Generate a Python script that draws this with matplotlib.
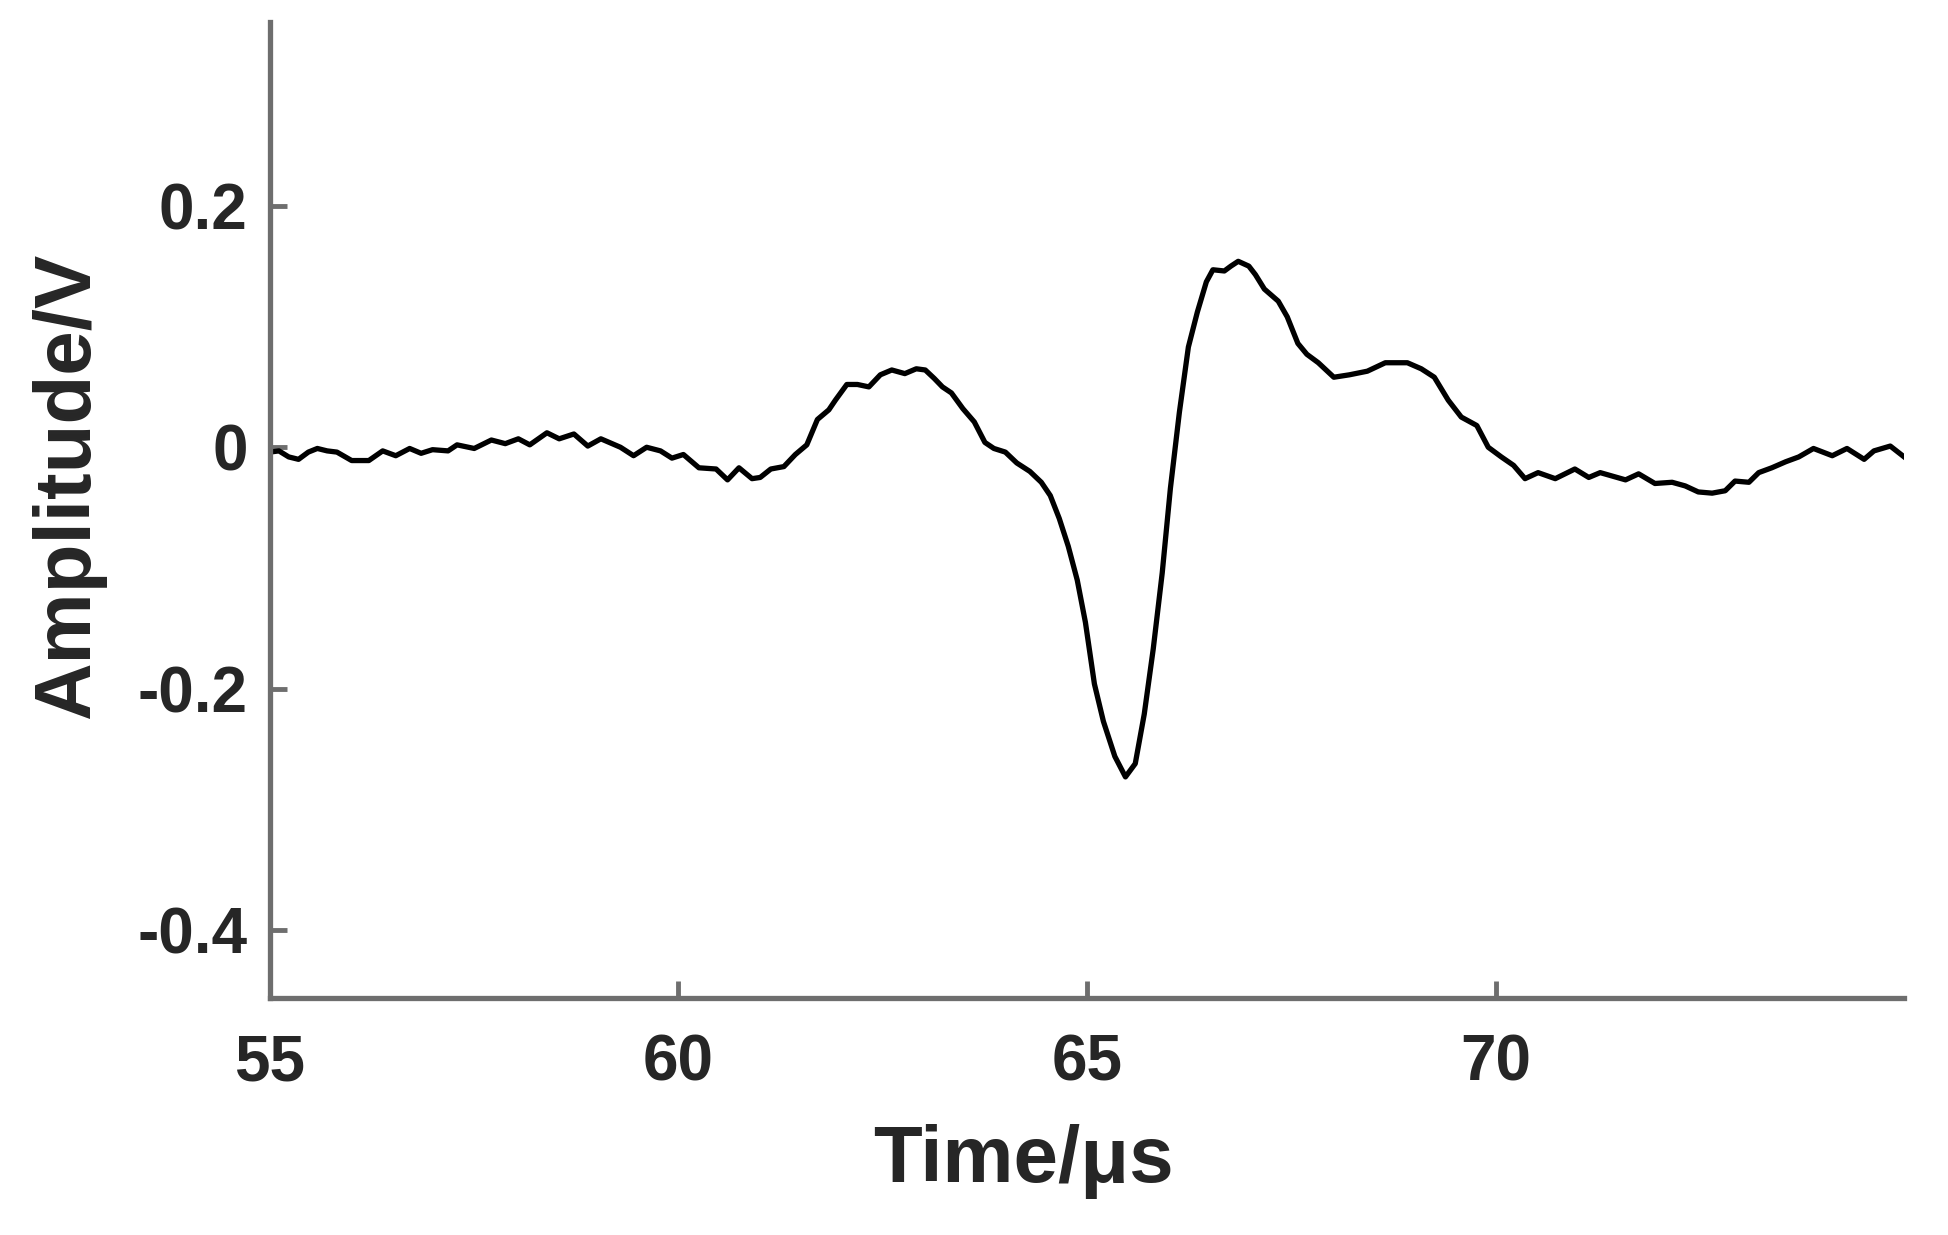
import matplotlib
matplotlib.use("Agg")
import matplotlib.pyplot as plt

# waveform (time in us, amplitude in V)
time_us = [55.00, 55.11, 55.23, 55.35, 55.47, 55.58, 55.70, 55.82, 56.00, 56.21,
           56.38, 56.54, 56.71, 56.85, 56.99, 57.18, 57.29, 57.50, 57.71, 57.88,
           58.04, 58.18, 58.39, 58.54, 58.72, 58.89, 59.05, 59.29, 59.45, 59.61,
           59.78, 59.92, 60.06, 60.25, 60.46, 60.60, 60.74, 60.90, 61.00, 61.13,
           61.29, 61.43, 61.57, 61.70, 61.84, 61.92, 62.06, 62.19, 62.33, 62.47,
           62.61, 62.77, 62.91, 63.02, 63.13, 63.23, 63.34, 63.48, 63.62, 63.75,
           63.86, 64.00, 64.14, 64.30, 64.44, 64.55, 64.66, 64.77, 64.88, 64.98,
           65.09, 65.20, 65.34, 65.47, 65.59, 65.70, 65.81, 65.92, 66.02, 66.13,
           66.24, 66.35, 66.46, 66.54, 66.68, 66.76, 66.85, 66.98, 67.06, 67.17,
           67.34, 67.45, 67.58, 67.69, 67.83, 68.02, 68.21, 68.43, 68.65, 68.92,
           69.09, 69.25, 69.42, 69.58, 69.77, 69.91, 70.07, 70.22, 70.36, 70.52,
           70.73, 70.97, 71.14, 71.28, 71.59, 71.75, 71.95, 72.16, 72.32, 72.48,
           72.65, 72.81, 72.93, 73.10, 73.22, 73.38, 73.55, 73.71, 73.89, 74.12,
           74.30, 74.51, 74.63, 74.83, 75.00]
amplitude_v = [-0.004, -0.003, -0.008, -0.010, -0.004, -0.001, -0.003, -0.004, -0.011, -0.011,
               -0.003, -0.007, -0.001, -0.005, -0.002, -0.003, 0.002, -0.001, 0.006, 0.003,
               0.007, 0.002, 0.012, 0.007, 0.011, 0.001, 0.007, 0.000, -0.007, 0.000,
               -0.003, -0.009, -0.006, -0.017, -0.018, -0.027, -0.017, -0.026, -0.025, -0.018,
               -0.016, -0.006, 0.002, 0.023, 0.031, 0.039, 0.052, 0.052, 0.050, 0.060,
               0.064, 0.061, 0.065, 0.064, 0.057, 0.050, 0.045, 0.032, 0.021, 0.004,
               -0.001, -0.004, -0.013, -0.020, -0.029, -0.040, -0.059, -0.082, -0.110, -0.145,
               -0.196, -0.227, -0.256, -0.273, -0.262, -0.221, -0.167, -0.104, -0.034, 0.029,
               0.083, 0.112, 0.137, 0.147, 0.146, 0.150, 0.154, 0.150, 0.143, 0.131,
               0.121, 0.108, 0.086, 0.077, 0.070, 0.058, 0.060, 0.063, 0.070, 0.070,
               0.065, 0.058, 0.039, 0.025, 0.018, 0.000, -0.008, -0.015, -0.026, -0.021,
               -0.026, -0.018, -0.025, -0.021, -0.027, -0.022, -0.030, -0.029, -0.032, -0.037,
               -0.038, -0.036, -0.028, -0.029, -0.021, -0.017, -0.012, -0.008, -0.001, -0.007,
               -0.001, -0.010, -0.003, 0.001, -0.008]

x_ticks = [55, 60, 65, 70]
y_ticks = [-0.4, -0.2, 0, 0.2]
y_tick_labels = ["-0.4", "-0.2", "0", "0.2"]

plt.rcParams['font.family'] = ['Liberation Sans', 'DejaVu Sans']
plt.rcParams['font.weight'] = 'bold'

text_col = '#262626'
axis_col = '#6e6e6e'

fig = plt.figure(figsize=(19.49, 12.35), dpi=100)
ax = fig.add_axes([0.1385, 0.192, 0.8385, 0.790])

ax.plot(time_us, amplitude_v, color='black', linewidth=3.8)

ax.set_xlim(55, 75)
ax.set_ylim(-0.456, 0.352)
ax.set_xticks(x_ticks)
ax.set_yticks(y_ticks)
ax.set_yticklabels(y_tick_labels)

for side in ['top', 'right']:
    ax.spines[side].set_visible(False)
for side in ['left', 'bottom']:
    ax.spines[side].set_color(axis_col)
    ax.spines[side].set_linewidth(3.8)

ax.tick_params(axis='both', direction='in', length=12, width=3.5,
               color=axis_col, labelcolor=text_col, labelsize=46)
ax.tick_params(axis='x', pad=26)
ax.tick_params(axis='y', pad=16)
for lab in ax.get_xticklabels() + ax.get_yticklabels():
    lab.set_fontweight('bold')

ax.set_xlabel('Time/μs', fontsize=57.5, fontweight='bold', color=text_col)
ax.xaxis.label.set_verticalalignment('baseline')
ax.xaxis.set_label_coords(0.461, -0.1885)

ax.set_ylabel('Amplitude/V', fontsize=57.5, fontweight='bold', color=text_col)
ax.yaxis.label.set_rotation_mode('anchor')
ax.yaxis.label.set_verticalalignment('baseline')
ax.yaxis.set_label_coords(-0.1108, 0.5246)

fig.savefig('out.png', dpi=100, facecolor='white')
